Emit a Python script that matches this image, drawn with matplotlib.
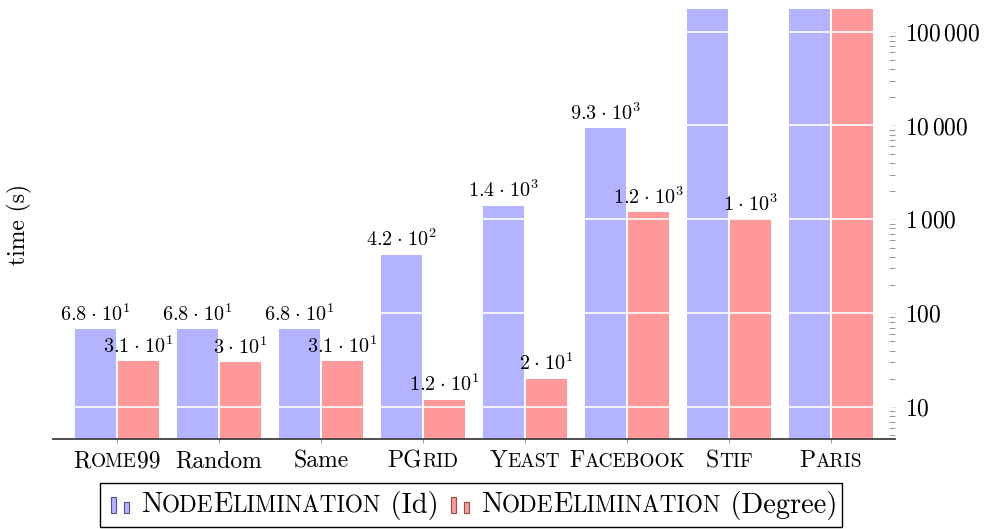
import numpy as np
import matplotlib
matplotlib.use("Agg")
from matplotlib import pyplot as plt
from matplotlib.patches import Rectangle
from matplotlib.offsetbox import TextArea, HPacker, DrawingArea, AnnotationBbox
from matplotlib.ticker import LogLocator, NullFormatter, FixedLocator, FixedFormatter

plt.rcParams['mathtext.fontset'] = 'cm'
plt.rcParams['font.family'] = 'cmr10'
plt.rcParams['axes.formatter.use_mathtext'] = True

# data (seconds); Stif (Id) and Paris run off the top of the chart
graphs = ["Rome99", "Random", "Same", "PGrid", "Yeast", "Facebook", "Stif", "Paris"]
smallcaps = [True, False, False, True, True, True, True, True]
time_id = [68, 68, 68, 420, 1400, 9300, 1e6, 1e6]
time_degree = [31, 30, 31, 12, 20, 1200, 1000, 1e6]
series_names = ["NodeElimination (Id)", "NodeElimination (Degree)"]
ytick_values = [10, 100, 1000, 10000, 100000]
ytick_labels = [r"$10$", r"$100$", r"$1\,000$", r"$10\,000$", r"$100\,000$"]

BLUE = "#b3b3ff"
RED = "#ff9999"
FS = 17
FS_LEG = 20.5
SC = 0.82
YMIN, YMAX = 4.57, 1.74e5
PX = 72 / 100  # points per pixel


def sc_box(text, size, sc=True):
    # fake LaTeX small caps: lowercase letters become smaller capitals
    if not sc:
        return HPacker(children=[TextArea(text, textprops=dict(fontsize=size, family='cmr10'))],
                       align='baseline', pad=0, sep=0)
    runs = []
    for ch in text:
        small = ch.islower()
        if runs and runs[-1][1] == small:
            runs[-1][0] += ch
        else:
            runs.append([ch, small])
    kids = []
    for txt, small in runs:
        s = size * SC if small else size
        kids.append(TextArea(txt.upper() if small else txt,
                             textprops=dict(fontsize=s, family='cmr10')))
    return HPacker(children=kids, align='baseline', pad=0, sep=0)


def sci_label(v):
    e = int(np.floor(np.log10(v)))
    m = round(v / 10 ** e, 1)
    return r"$%g\;{\cdot}\;10^{%d}$" % (m, e)


fig = plt.figure(figsize=(9.84, 5.29), dpi=100)
W, H = 984, 529
ax = fig.add_axes([53 / W, (H - 439) / H, (895 - 53) / W, (439 - 9) / H])

x = np.arange(len(graphs))
bw = 0.4
off = 0.21
ax.bar(x - off, time_id, bw, color=BLUE, edgecolor='none', zorder=1)
ax.bar(x + off, time_degree, bw, color=RED, edgecolor='none', zorder=1)

ax.set_yscale('log')
ax.set_ylim(YMIN, YMAX)
ax.set_xlim((53 - 117) / 102, (895 - 117) / 102)

for vals, dx in ((time_id, -off), (time_degree, off)):
    for xi, v in zip(x, vals):
        if v < YMAX:
            ax.annotate(sci_label(v), (xi + dx, v), xytext=(0, 6), textcoords='offset points',
                        ha='center', va='baseline', fontsize=14.5, zorder=3)

# grid drawn over the bars, white
for yv in ytick_values:
    ax.axhline(yv, color='white', lw=1.2, zorder=2)

for s in ('top', 'right', 'left'):
    ax.spines[s].set_visible(False)
ax.spines['bottom'].set_color('#404040')
ax.spines['bottom'].set_linewidth(1.3)
ax.spines['bottom'].set_zorder(4)

ax.yaxis.tick_right()
ax.yaxis.set_major_locator(FixedLocator(ytick_values))
ax.yaxis.set_major_formatter(FixedFormatter(ytick_labels))
ax.yaxis.set_minor_locator(LogLocator(base=10, subs=np.arange(2, 10), numticks=20))
ax.yaxis.set_minor_formatter(NullFormatter())
ax.tick_params(axis='y', which='both', direction='in', length=4.3, width=0.7,
               color='#999999', pad=7, labelsize=FS)

ax.set_xticks(x)
ax.set_xticklabels([])
ax.tick_params(axis='x', direction='out', length=3, width=0.7, color='#999999')

for xi, name, sc in zip(x, graphs, smallcaps):
    ab = AnnotationBbox(sc_box(name, FS, sc), (xi, 0), xycoords=('data', 'axes fraction'),
                        xybox=(0, -8), boxcoords='offset points', box_alignment=(0.5, 1),
                        frameon=False, pad=0, annotation_clip=False)
    ax.add_artist(ab)

fig.text(19 / W, 1 - 224 / H, "time (s)", rotation=90, ha='center', va='center', fontsize=FS)


def legend_handle(face, edge):
    # two small bars, sizes in pixels converted to points
    da = DrawingArea(19 * PX, 16 * PX, 0, 0)
    da.add_artist(Rectangle((0.5 * PX, 0), 5 * PX, 16 * PX, facecolor=face, edgecolor=edge, lw=0.8))
    da.add_artist(Rectangle((13.5 * PX, 0), 5 * PX, 11 * PX, facecolor=face, edgecolor=edge, lw=0.8))
    return da


items = [DrawingArea(2 * PX, 36 * PX, 0, 0)]
for i, (name, face, edge) in enumerate(zip(series_names, (BLUE, RED), ('#505090', '#905050'))):
    word, rest = name.split(" ", 1)
    txt = HPacker(children=[sc_box(word, FS_LEG),
                            TextArea(" " + rest, textprops=dict(fontsize=FS_LEG, family='cmr10'))],
                  align='baseline', pad=0, sep=0)
    if i > 0:
        items.append(DrawingArea(4 * PX, 1, 0, 0))
    items.append(legend_handle(face, edge))
    items.append(DrawingArea(3 * PX, 1, 0, 0))
    items.append(txt)
leg = HPacker(children=items, align='center', pad=0, sep=4 * PX)
lab = AnnotationBbox(leg, (471, 24), xycoords='figure pixels', box_alignment=(0.5, 0.5),
                     frameon=True, pad=0.3, annotation_clip=False,
                     bboxprops=dict(edgecolor='black', lw=1.0, boxstyle='square,pad=0.3'))
fig.add_artist(lab)

fig.savefig("out.png", dpi=100)
